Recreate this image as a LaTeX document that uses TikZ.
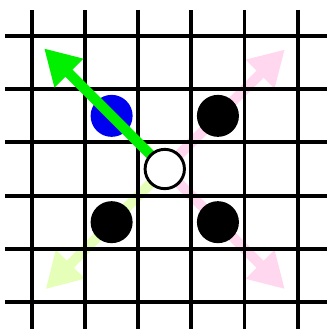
\documentclass[tikz,border=0pt]{standalone}
\usetikzlibrary{arrows.meta}
\definecolor{pinkarrow}{RGB}{255,216,240}
\definecolor{limearrow}{RGB}{230,255,184}
\definecolor{brightgreen}{RGB}{0,240,0}
\definecolor{stoneblue}{RGB}{0,0,240}
\begin{document}
\begin{tikzpicture}[
  gridline/.style={line width=0.075cm, black},
  movearrow/.style={line width=0.19cm, -{Triangle[length=0.66cm,width=0.72cm]}},
  stone/.style={circle, minimum size=0.79cm, inner sep=0pt},
  ringstone/.style={circle, minimum size=0.74cm, inner sep=0pt, draw=black, line width=0.055cm, fill=white}
]
\useasboundingbox (-0.6,-0.51) rectangle (5.56,5.68);
% anchors
\coordinate (c) at (2.5,2.5);
\coordinate (tNW) at (0.23,4.77);
\coordinate (tNE) at (4.76,4.75);
\coordinate (tSE) at (4.76,0.24);
\coordinate (tSW) at (0.26,0.24);
% faint arrows (under the grid)
\draw[movearrow, pinkarrow] (c) -- (tNE);
\draw[movearrow, pinkarrow] (c) -- (tSE);
\draw[movearrow, limearrow] (c) -- (tSW);
% grid
\foreach \i in {0,...,5} {
  \draw[gridline] (-0.5,\i) -- (5.56,\i);
  \draw[gridline] (\i,-0.51) -- (\i,5.5);
}
% stones
\node[stone, fill=black] (b1) at (3.5,3.5) {};
\node[stone, fill=black] (b2) at (1.5,1.5) {};
\node[stone, fill=black] (b3) at (3.5,1.5) {};
\node[stone, fill=stoneblue] (bl) at (1.5,3.5) {};
% green arrow
\draw[movearrow, brightgreen] (c) -- (tNW);
% white stone
\node[ringstone] (w) at (c) {};
\end{tikzpicture}
\end{document}
